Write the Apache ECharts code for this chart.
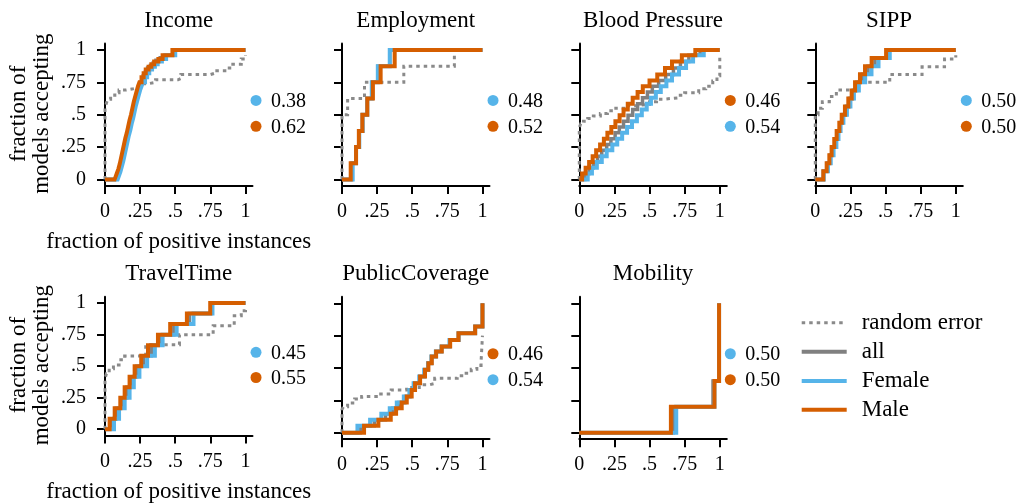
<!DOCTYPE html>
<html>
<head>
<meta charset="utf-8">
<script src="https://cdn.jsdelivr.net/npm/echarts@6/dist/echarts.min.js"></script>
<style>
  html, body { margin: 0; padding: 0; background: #ffffff; }
  #chart { width: 1020px; height: 504px; }
</style>
</head>
<body>
<div id="chart"></div>
<script>
// ---- labels ----
const panelTitles = ['Income', 'Employment', 'Blood Pressure', 'SIPP', 'TravelTime', 'PublicCoverage', 'Mobility'];
const tickValues = [0, 0.25, 0.5, 0.75, 1];
const tickLabels = ['0', '.25', '.5', '.75', '1'];
const legendNames = ['random error', 'all', 'Female', 'Male'];
const xAxisTitle = 'fraction of positive instances';
const yAxisTitle = 'fraction of\nmodels accepting';

// scores shown beside each panel
const femaleScores = [0.38, 0.48, 0.54, 0.50, 0.45, 0.54, 0.50];
const maleScores   = [0.62, 0.52, 0.46, 0.50, 0.55, 0.46, 0.50];

// ---- step curves: [fraction of positive instances, fraction of models accepting] ----
const incomeRandom = [[0,0],[0,0.55],[0.01,0.59],[0.02,0.62],[0.04,0.65],[0.07,0.67],[0.1,0.69],[0.15,0.7],[0.2,0.71],[0.24,0.72],[0.27,0.74],[0.31,0.75],[0.36,0.77],[0.52,0.78],[0.54,0.81],[0.75,0.82],[0.78,0.84],[0.87,0.86],[0.91,0.89],[0.97,0.93],[1,0.96]];
const incomeAll = [[0,0],[0.078,0.01],[0.088,0.03],[0.098,0.06],[0.108,0.1],[0.118,0.14],[0.128,0.19],[0.138,0.24],[0.148,0.29],[0.158,0.34],[0.168,0.38],[0.178,0.43],[0.188,0.48],[0.198,0.52],[0.208,0.57],[0.218,0.62],[0.228,0.66],[0.238,0.7],[0.248,0.73],[0.258,0.76],[0.273,0.8],[0.288,0.83],[0.303,0.86],[0.323,0.88],[0.343,0.9],[0.363,0.92],[0.393,0.94],[0.423,0.96],[0.49,1],[1,1]];
const incomeFemale = [[0,0],[0.09,0.01],[0.1,0.03],[0.11,0.06],[0.12,0.1],[0.13,0.14],[0.14,0.19],[0.15,0.24],[0.16,0.29],[0.17,0.34],[0.18,0.38],[0.19,0.43],[0.2,0.47],[0.21,0.52],[0.22,0.57],[0.23,0.61],[0.24,0.65],[0.25,0.69],[0.26,0.72],[0.27,0.75],[0.285,0.79],[0.3,0.82],[0.315,0.85],[0.335,0.87],[0.355,0.89],[0.375,0.91],[0.405,0.93],[0.435,0.96],[0.5,1],[1,1]];
const incomeMale = [[0,0],[0.068,0.01],[0.075,0.02],[0.085,0.05],[0.095,0.08],[0.105,0.12],[0.115,0.17],[0.125,0.22],[0.135,0.27],[0.145,0.32],[0.155,0.36],[0.165,0.41],[0.175,0.46],[0.185,0.5],[0.195,0.55],[0.205,0.6],[0.215,0.64],[0.225,0.68],[0.235,0.72],[0.245,0.75],[0.26,0.79],[0.275,0.82],[0.29,0.85],[0.31,0.87],[0.33,0.89],[0.35,0.91],[0.38,0.93],[0.41,0.96],[0.48,1],[1,1]];

const employmentRandom = [[0,0],[0,0.5],[0.04,0.625],[0.16,0.75],[0.44,0.875],[0.8,1],[1,1]];
const employmentAll = [[0,0],[0.07,0.125],[0.1,0.25],[0.12,0.375],[0.146,0.5],[0.18,0.625],[0.215,0.75],[0.255,0.875],[0.34,1],[1,1]];
const employmentFemale = [[0,0],[0.076,0.125],[0.1,0.25],[0.123,0.375],[0.147,0.5],[0.18,0.625],[0.212,0.75],[0.255,0.875],[0.34,1],[1,1]];
const employmentMale = [[0,0],[0.062,0.125],[0.1,0.25],[0.12,0.375],[0.145,0.5],[0.18,0.625],[0.22,0.75],[0.275,0.875],[0.375,1],[1,1]];

const bloodRandom = [[0,0],[0,0.4],[0.01,0.43],[0.03,0.45],[0.06,0.47],[0.1,0.49],[0.15,0.51],[0.2,0.53],[0.26,0.55],[0.33,0.57],[0.4,0.58],[0.5,0.6],[0.55,0.62],[0.6,0.63],[0.7,0.65],[0.75,0.67],[0.85,0.7],[0.9,0.72],[0.95,0.76],[0.98,0.8],[1,0.86],[1,0.94]];
const bloodAll = [[0,0],[0.04,0.045],[0.07,0.09],[0.1,0.135],[0.13,0.18],[0.16,0.225],[0.195,0.27],[0.225,0.315],[0.255,0.36],[0.285,0.405],[0.315,0.45],[0.347,0.495],[0.38,0.54],[0.415,0.585],[0.45,0.63],[0.485,0.675],[0.52,0.72],[0.565,0.765],[0.615,0.81],[0.67,0.86],[0.72,0.91],[0.78,0.96],[0.86,1],[1,1]];
const bloodFemale = [[0,0],[0.06,0.045],[0.09,0.09],[0.125,0.135],[0.16,0.18],[0.195,0.225],[0.235,0.27],[0.27,0.315],[0.305,0.36],[0.34,0.405],[0.375,0.45],[0.41,0.495],[0.445,0.54],[0.48,0.585],[0.51,0.63],[0.545,0.675],[0.58,0.72],[0.62,0.765],[0.66,0.81],[0.71,0.86],[0.76,0.91],[0.81,0.96],[0.886,1],[1,1]];
const bloodMale = [[0,0],[0.02,0.045],[0.045,0.09],[0.07,0.135],[0.095,0.18],[0.12,0.225],[0.148,0.27],[0.175,0.315],[0.2,0.36],[0.228,0.405],[0.257,0.45],[0.287,0.495],[0.315,0.54],[0.345,0.585],[0.38,0.63],[0.415,0.675],[0.452,0.72],[0.5,0.765],[0.555,0.81],[0.61,0.86],[0.66,0.91],[0.73,0.96],[0.826,1],[1,1]];

const sippRandom = [[0,0],[0,0.5],[0.02,0.55],[0.05,0.6],[0.1,0.64],[0.15,0.69],[0.3,0.75],[0.53,0.81],[0.76,0.87],[0.92,0.93],[1,0.96]];
const sippAll = [[0,0],[0.058,0.0625],[0.085,0.125],[0.105,0.1875],[0.123,0.25],[0.142,0.3125],[0.158,0.375],[0.175,0.4375],[0.194,0.5],[0.218,0.5625],[0.242,0.625],[0.267,0.6875],[0.295,0.75],[0.335,0.8125],[0.375,0.875],[0.425,0.9375],[0.515,1],[1,1]];
const sippFemale = [[0,0],[0.06,0.0625],[0.09,0.125],[0.11,0.1875],[0.13,0.25],[0.15,0.3125],[0.165,0.375],[0.18,0.4375],[0.2,0.5],[0.225,0.5625],[0.25,0.625],[0.275,0.6875],[0.31,0.75],[0.355,0.8125],[0.4,0.875],[0.45,0.9375],[0.53,1],[1,1]];
const sippMale = [[0,0],[0.057,0.0625],[0.081,0.125],[0.1,0.1875],[0.116,0.25],[0.135,0.3125],[0.152,0.375],[0.171,0.4375],[0.188,0.5],[0.211,0.5625],[0.235,0.625],[0.259,0.6875],[0.283,0.75],[0.318,0.8125],[0.354,0.875],[0.401,0.9375],[0.504,1],[1,1]];

const travelRandom = [[0,0],[0,0.4],[0.01,0.44],[0.03,0.48],[0.06,0.51],[0.1,0.55],[0.14,0.58],[0.29,0.67],[0.53,0.75],[0.77,0.82],[0.92,0.9],[0.97,0.94],[1,0.96]];
const travelAll = [[0,0],[0.045,0.0833],[0.08,0.1667],[0.12,0.25],[0.155,0.3333],[0.19,0.4167],[0.225,0.5],[0.275,0.5833],[0.33,0.6667],[0.395,0.75],[0.49,0.8333],[0.6,0.9167],[0.755,1],[1,1]];
const travelFemale = [[0,0],[0.064,0.0833],[0.1,0.1667],[0.14,0.25],[0.175,0.3333],[0.205,0.4167],[0.245,0.5],[0.3,0.5833],[0.355,0.6667],[0.41,0.75],[0.51,0.8333],[0.63,0.9167],[0.765,1],[1,1]];
const travelMale = [[0,0],[0.033,0.0833],[0.069,0.1667],[0.109,0.25],[0.14,0.3333],[0.175,0.4167],[0.211,0.5],[0.258,0.5833],[0.306,0.6667],[0.377,0.75],[0.464,0.8333],[0.583,0.9167],[0.749,1],[1,1]];

const coverageRandom = [[0,0],[0,0.18],[0.01,0.2],[0.04,0.23],[0.09,0.26],[0.14,0.28],[0.26,0.3],[0.35,0.33],[0.46,0.35],[0.55,0.37],[0.62,0.38],[0.66,0.42],[0.82,0.44],[0.87,0.46],[0.92,0.49],[0.96,0.52],[0.99,0.55],[1,0.75]];
const coverageAll = [[0,0],[0.13,0.054],[0.23,0.1],[0.31,0.147],[0.36,0.19],[0.405,0.234],[0.45,0.28],[0.488,0.33],[0.515,0.383],[0.553,0.434],[0.588,0.486],[0.614,0.537],[0.638,0.589],[0.669,0.627],[0.709,0.666],[0.768,0.717],[0.83,0.769],[0.948,0.82],[1,1]];
const coverageFemale = [[0,0],[0.11,0.054],[0.2,0.1],[0.28,0.147],[0.34,0.19],[0.39,0.234],[0.44,0.28],[0.48,0.33],[0.51,0.383],[0.55,0.434],[0.585,0.486],[0.612,0.537],[0.636,0.589],[0.668,0.627],[0.708,0.666],[0.765,0.717],[0.83,0.769],[0.948,0.82],[1,1]];
const coverageMale = [[0,0],[0.157,0.054],[0.259,0.1],[0.347,0.147],[0.385,0.19],[0.425,0.234],[0.461,0.28],[0.496,0.33],[0.52,0.383],[0.556,0.434],[0.591,0.486],[0.615,0.537],[0.639,0.589],[0.67,0.627],[0.71,0.666],[0.77,0.717],[0.829,0.769],[0.948,0.82],[1,1]];

const mobilityRandom = [];
const mobilityAll = [[0,0],[0.67,0.2],[0.952,0.4],[0.995,1]];
const mobilityFemale = [[0,0],[0.69,0.2],[0.962,0.4],[0.995,1]];
const mobilityMale = [[0,0],[0.652,0.2],[0.962,0.4],[0.995,1]];

const panels = [
  [incomeRandom, incomeAll, incomeFemale, incomeMale],
  [employmentRandom, employmentAll, employmentFemale, employmentMale],
  [bloodRandom, bloodAll, bloodFemale, bloodMale],
  [sippRandom, sippAll, sippFemale, sippMale],
  [travelRandom, travelAll, travelFemale, travelMale],
  [coverageRandom, coverageAll, coverageFemale, coverageMale],
  [mobilityRandom, mobilityAll, mobilityFemale, mobilityMale]
];

// ---- styling ----
const FONT = '"Liberation Serif", "Times New Roman", serif';
const BLUE = '#56B4E9';
const ORANGE = '#D55E00';
const GRAY = '#808080';
const DOT_GRAY = '#8a8a8a';
const seriesStyles = [
  { color: DOT_GRAY, width: 3, type: [3.5, 4] },
  { color: GRAY, width: 3.5, type: 'solid' },
  { color: BLUE, width: 4, type: 'solid' },
  { color: ORANGE, width: 4, type: 'solid' }
];

const colLeft = [105, 342, 579.3, 815.3];
const rowTop = [43.5, 296.8];
const gridW = 147.5;
const gridH = 142.4;

function tickText(v) {
  for (let k = 0; k < tickValues.length; k++) {
    if (Math.abs(tickValues[k] - v) < 1e-9) return tickLabels[k];
  }
  return '';
}

const grids = [], xAxes = [], yAxes = [], series = [];
panels.forEach((curves, i) => {
  const row = i < 4 ? 0 : 1;
  const col = i % 4;
  const firstCol = col === 0;
  grids.push({ left: colLeft[col], top: rowTop[row], width: gridW, height: gridH, containLabel: false });
  xAxes.push({
    gridIndex: i, type: 'value', min: 0, max: 1.05,
    axisLine: { show: true, onZero: false, lineStyle: { color: '#000', width: 2 } },
    axisTick: { show: true, customValues: tickValues, length: 8, lineStyle: { color: '#000', width: 2 } },
    axisLabel: { show: true, customValues: tickValues, formatter: tickText, margin: 16,
      fontFamily: FONT, fontSize: 20, color: '#000', lineHeight: 20 },
    splitLine: { show: false },
    name: firstCol ? xAxisTitle : '', nameLocation: 'middle', nameGap: 45,
    nameTextStyle: { fontFamily: FONT, fontSize: 23, color: '#000', lineHeight: 22 }
  });
  yAxes.push({
    gridIndex: i, type: 'value', min: -0.05, max: 1.05,
    axisLine: { show: true, onZero: false, lineStyle: { color: '#000', width: 2 } },
    axisTick: { show: true, customValues: tickValues, length: 8, lineStyle: { color: '#000', width: 2 } },
    axisLabel: { show: firstCol, customValues: tickValues, formatter: tickText, margin: 19,
      fontFamily: FONT, fontSize: 20, color: '#000' },
    splitLine: { show: false }
  });
  curves.forEach((data, s) => {
    const st = seriesStyles[s];
    series.push({
      type: 'line', name: legendNames[s], xAxisIndex: i, yAxisIndex: i,
      data: data, step: 'end', symbol: 'none', showSymbol: false, silent: true,
      clip: false,
      lineStyle: { color: st.color, width: st.width, type: st.type, cap: 'butt', join: 'miter' },
      z: 2 + s
    });
  });
});

const chart = echarts.init(document.getElementById('chart'), null, { renderer: 'canvas' });
chart.setOption({
  animation: false,
  backgroundColor: '#ffffff',
  grid: grids, xAxis: xAxes, yAxis: yAxes, series: series
});

// ---- titles, score markers, axis captions and key ----
const graphics = [];
panels.forEach((curves, i) => {
  const top = chart.convertToPixel({ gridIndex: i }, [0.525, 1]);
  graphics.push({
    type: 'text', x: top[0], y: top[1] - 29, silent: true,
    style: { text: panelTitles[i], font: '23px ' + FONT, fill: '#000', align: 'center', verticalAlign: 'middle' }
  });
  const entries = [
    { color: BLUE, value: femaleScores[i] },
    { color: ORANGE, value: maleScores[i] }
  ];
  if (maleScores[i] < femaleScores[i]) entries.reverse();
  [0.61, 0.41].forEach((yv, k) => {
    const p = chart.convertToPixel({ gridIndex: i }, [1.075, yv]);
    graphics.push({ type: 'circle', silent: true, shape: { cx: p[0], cy: p[1], r: 5.5 }, style: { fill: entries[k].color } });
    graphics.push({
      type: 'text', x: p[0] + 15, y: p[1] + 1, silent: true,
      style: { text: entries[k].value.toFixed(2), font: '20px ' + FONT, fill: '#000', align: 'left', verticalAlign: 'middle' }
    });
  });
  if (i % 4 === 0) {
    const mid = chart.convertToPixel({ gridIndex: i }, [0, 0.5]);
    graphics.push({
      type: 'text', x: 30, y: mid[1] - 1, rotation: Math.PI / 2, silent: true,
      style: { text: yAxisTitle, font: '23px ' + FONT, fill: '#000', align: 'center', verticalAlign: 'middle', lineHeight: 23 }
    });
  }
});

const keyX = 801.7, keyY = [322.7, 351.7, 380.9, 409.8];
legendNames.forEach((name, k) => {
  const st = seriesStyles[k];
  graphics.push({
    type: 'line', silent: true,
    shape: { x1: keyX, y1: keyY[k], x2: keyX + 45, y2: keyY[k] },
    style: { stroke: st.color, lineWidth: k === 0 ? 3 : 4, lineDash: Array.isArray(st.type) ? st.type : null, lineCap: 'butt' }
  });
  graphics.push({
    type: 'text', x: keyX + 60, y: keyY[k] + 0.5, silent: true,
    style: { text: name, font: '23px ' + FONT, fill: '#000', align: 'left', verticalAlign: 'middle' }
  });
});

chart.setOption({ graphic: graphics });
</script>
</body>
</html>
